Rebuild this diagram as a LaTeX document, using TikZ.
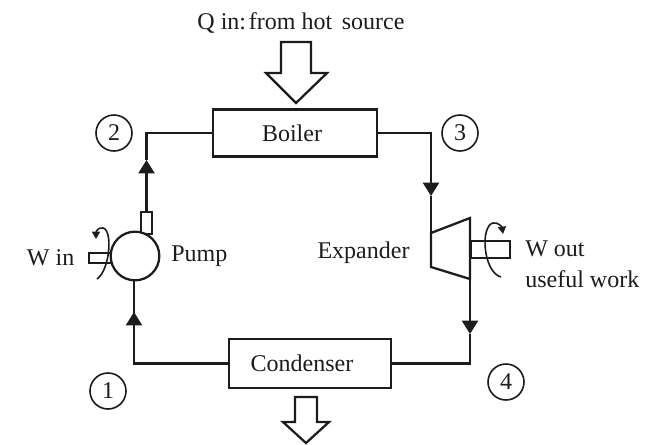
\documentclass[tikz,border=0pt]{standalone}
\usepackage{fontspec}
\setmainfont{Liberation Serif}
\usetikzlibrary{arrows.meta}
\usetikzlibrary{positioning}
\definecolor{inkdark}{HTML}{1C1C1C}
\tikzset{
        treetext/.style={inner sep=0pt,text=inkdark,font=\fontsize{18}{20}\selectfont},
        % Boiler and condenser
        node_unit/.style={treetext, rectangle, draw=inkdark, fill=white, line width=1.9pt},
        % State numbers
        node_state/.style={treetext, circle, draw=inkdark, fill=white, line width=1.2pt, minimum size=27pt},
        % Pump body
        node_pump/.style={circle, draw=inkdark, fill=white, line width=1.7pt, inner sep=0pt, minimum size=36.5pt},
        % Shaft stubs
        node_stub/.style={rectangle, draw=inkdark, fill=white, line width=1.7pt, inner sep=0pt},
        % Working fluid lines
        flow/.style={draw=inkdark, line width=1.7pt},
        flow_tip/.style={flow, -{Triangle[width=12pt,length=10pt]}},
        % Rotation marks
        spin/.style={draw=inkdark, line width=1.2pt, -{Triangle[length=5.5pt,width=6pt]}},
        % Heat arrows
        heat/.style={draw=inkdark, fill=white, line width=1.7pt, line join=miter}
}
\begin{document}
\begin{tikzpicture}[x=0.75pt,y=-0.75pt]
    \useasboundingbox (0,0) rectangle (652,444);

    % Units
    \node[node_unit, minimum width=123pt, minimum height=35pt] (boiler) at (295,133) {Boiler\kern4.5pt};
    \node[node_unit, minimum width=121.5pt, minimum height=37pt] (condenser) at (310,363.5) {Condenser\kern12pt};

    % Pump
    \node[node_stub, minimum width=8pt, minimum height=17pt] (pumpstub) at (146.5,223) {};
    \node[node_stub, minimum width=16.5pt, minimum height=7.5pt] (pumpshaft) at (100,258) {};
    \node[node_pump] (pump) at (135,256) {};

    % Expander
    \coordinate (exp_a) at (431,233);
    \coordinate (exp_b) at (470,218);
    \coordinate (exp_c) at (470,279);
    \coordinate (exp_d) at (431,267);
    \node[node_stub, minimum width=29pt, minimum height=12.5pt, anchor=west] (expshaft) at (470,249.5) {};
    \draw[flow, fill=white, line join=miter] (exp_a) -- (exp_b) -- (exp_c) -- (exp_d) -- cycle;

    % Corners and arrow positions of the loop
    \coordinate (corner_2) at (146.5,133);
    \coordinate (corner_3) at (431,133);
    \coordinate (corner_4) at (470,363.5);
    \coordinate (corner_1) at (134,363.5);
    \coordinate (tip_2) at (146.5,160);
    \coordinate (tip_3) at (431,196);
    \coordinate (tip_4) at (470,334);
    \coordinate (tip_1) at (134,312);

    \draw[flow_tip] (pumpstub.north) -- (tip_2);
    \draw[flow] (tip_2) -- (corner_2) -- (boiler.west);
    \draw[flow_tip] (boiler.east) -- (corner_3) -- (tip_3);
    \draw[flow] (tip_3) -- (exp_a);
    \draw[flow_tip] (exp_c) -- (tip_4);
    \draw[flow] (tip_4) -- (corner_4) -- (condenser.east);
    \draw[flow] (condenser.west) -- (corner_1) -- (tip_1);
    \draw[flow_tip] (corner_1) -- (tip_1);
    \draw[flow] (tip_1) -- (pump.south -| tip_1);

    % Rotation marks
    \coordinate (spin_in_a) at (97,279);
    \coordinate (spin_in_b) at (96,239);
    \coordinate (spin_out_a) at (501,277);
    \coordinate (spin_out_b) at (503,234);
    \draw[spin] (spin_in_a) .. controls (110,270) and (113,230) .. (103,228) .. controls (98,227) and (96,232) .. (spin_in_b);
    \draw[spin] (spin_out_a) .. controls (483,272) and (480,226) .. (493,223) .. controls (498,222) and (502,227) .. (spin_out_b);

    % Heat arrows
    \draw[heat] (281,42) -- (311,42) -- (311,73) -- (327,73) -- (296,103) -- (266,73) -- (281,73) -- cycle;
    \draw[heat] (295,397) -- (317,397) -- (317,422) -- (329,422) -- (306,443) -- (283,422) -- (295,422) -- cycle;

    % State numbers
    \node[node_state] (state_2) at (114,133) {2};
    \node[node_state] (state_3) at (460,133) {3};
    \node[node_state] (state_1) at (108,391) {1};
    \node[node_state] (state_4) at (506,382) {4};

    % Labels
    \node[treetext] (qin) at (301,23) {Q in:\hspace{.12em}from hot\hspace{.4em}source};
    \node[treetext, left=10pt of pumpshaft] (win) {W in};
    \node[treetext, right=8pt of pump] (pumplabel) {Pump};
    \node[treetext] (explabel) at (363.5,253) {Expander};
    \node[treetext, anchor=west] (wout) at (525,249) {W out};
    \node[treetext, anchor=west] (useful) at (525,279) {useful work};
\end{tikzpicture}
\end{document}
